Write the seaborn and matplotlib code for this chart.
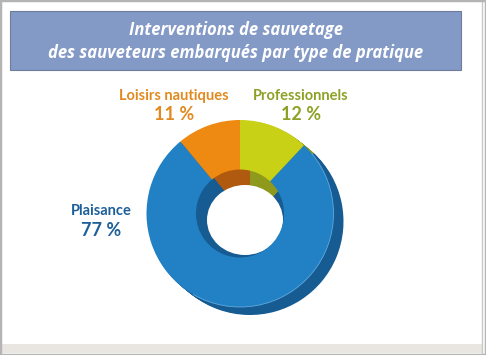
import matplotlib
matplotlib.use("Agg")
import matplotlib.pyplot as plt
from matplotlib.patches import Rectangle, Ellipse, Arc
import seaborn as sns

sns.set_theme(style="white")
plt.rcParams['font.family'] = ['Lato', 'DejaVu Sans']

# Data
categories = ["Professionnels", "Plaisance", "Loisirs nautiques"]
values = [12, 77, 11]
pct_labels = ["12 %", "77 %", "11 %"]
title_lines = ["Interventions de sauvetage", "des sauveteurs embarqués par type de pratique"]

top_colors = ["#c9d117", "#2181c4", "#ee8911"]
side_colors = ["#8f9a1c", "#165b91", "#b05a10"]
text_colors = ["#8ea126", "#1d5f98", "#e28a1f"]

W, H = 486, 355
fig = plt.figure(figsize=(W / 100, H / 100), dpi=100)
fig.patch.set_facecolor("white")
ax = fig.add_axes([0, 0, 1, 1])

cx, cy = 240, H - 213.5
R = 93.5
inner = 44

# 3D side (extrusion)
for k in range(1, 11):
    ax.pie(values, radius=R, center=(cx + k * 1.0, cy - k * 0.8), startangle=90,
           counterclock=False, colors=side_colors,
           wedgeprops=dict(edgecolor="none", zorder=1))

# visible bottom of the hole
ax.add_patch(Ellipse((245, H - 220), 76, 70, facecolor="white", edgecolor="none", zorder=2))

# top face ring
ax.pie(values, radius=R, center=(cx, cy), startangle=90, counterclock=False,
       colors=top_colors, wedgeprops=dict(width=R - inner, edgecolor="none", zorder=3))
ax.add_patch(Arc((cx, cy), 2 * R, 2 * R, theta1=-120, theta2=40, color="#62a9df",
                 lw=0.6, zorder=3.5))

ax.set_xlim(0, W)
ax.set_ylim(0, H)
ax.set_aspect("auto")
ax.axis("off")

# frame and bottom strip
fig.patches.append(Rectangle((0, 0), 1, 1, transform=fig.transFigure, facecolor="none",
                             edgecolor="#b4b4b4", linewidth=2.5, zorder=0))
ax.add_patch(Rectangle((2, H - 353), 480, 9, facecolor="#e9e5e1", edgecolor="none", zorder=0))
ax.plot([482, 482], [H - 353, H - 2], color="#c8c8c8", lw=1, zorder=0)

# title box
ax.add_patch(Rectangle((10, H - 70), 451, 59, facecolor="#8399c6", edgecolor="#6e7d9c",
                       linewidth=0.8, zorder=4))
ax.text(235.5, H - 30, title_lines[0], color="white", fontsize=12, fontweight="bold",
        fontstyle="italic", family=["Open Sans", "DejaVu Sans"], ha="center", va="center", zorder=5)
ax.text(235.5, H - 53, title_lines[1], color="white", fontsize=12, fontweight="bold",
        fontstyle="italic", family=["Open Sans", "DejaVu Sans"], ha="center", va="center", zorder=5)

# labels
label_pos = [(301, 96, 115), (101, 211, 230), (174, 96, 115)]
for cat, pct, col, (x, y1, y2) in zip(categories, pct_labels, text_colors, label_pos):
    ax.text(x, H - y1, cat, color=col, fontsize=10.5, fontweight="bold", ha="center", va="center", zorder=5)
    ax.text(x, H - y2, pct, color=col, fontsize=13, fontweight="bold", ha="center", va="center", zorder=5)

fig.savefig("out.png", dpi=100)
